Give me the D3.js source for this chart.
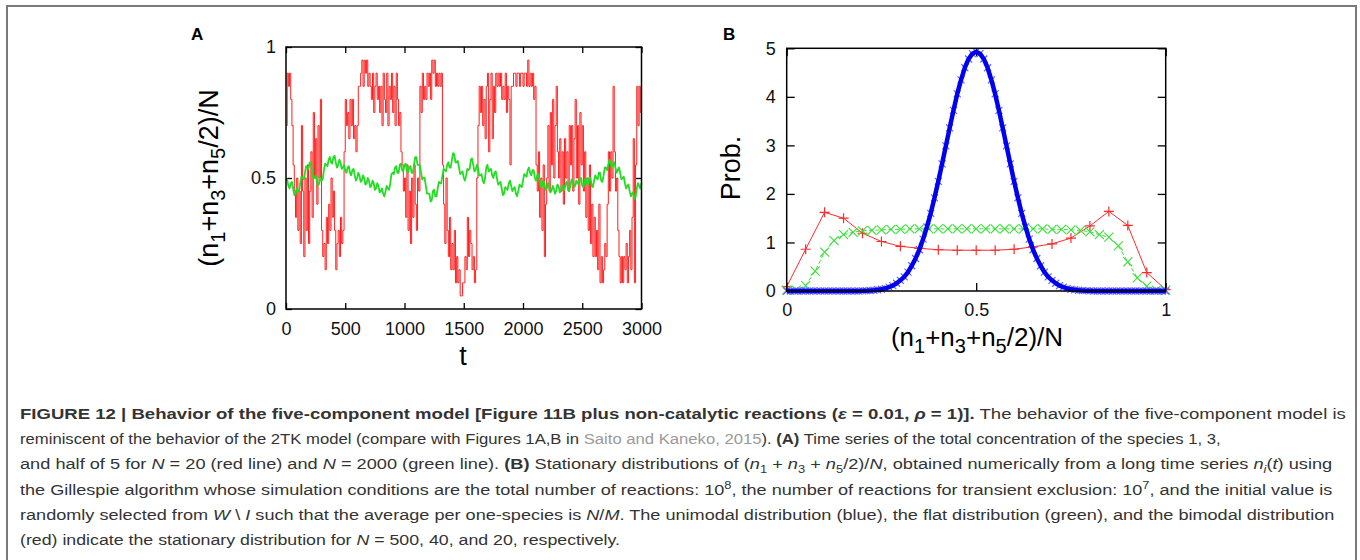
<!DOCTYPE html>
<html>
<head>
<meta charset="utf-8">
<script src="https://cdn.jsdelivr.net/npm/d3@7"></script>
<style>
  body { margin: 0; background: #fff; }
  svg text { font-family: "Liberation Sans", Arial, Helvetica, sans-serif; }
  svg text.caption { font-family: "Liberation Sans Narrow", "Liberation Sans", Arial, sans-serif; }
</style>
</head>
<body>
<script>
// ---- Panel A: time series (t step 10 for both series)
var tTicksA = [0, 500, 1000, 1500, 2000, 2500, 3000];
var yTicksA = [0, 0.5, 1];
var redStepA = 10;
var redA = [
  0.7, 0.9, 0.85, 0.9, 0.8, 0.7, 0.55, 0.45, 0.35, 0.5,
  0.3, 0.45, 0.25, 0.7, 0.45, 0.2, 0.5, 0.3, 0.55, 0.25,
  0.45, 0.6, 0.35, 0.75, 0.5, 0.65, 0.4, 0.7, 0.5, 0.8,
  0.3, 0.2, 0.25, 0.15, 0.35, 0.25, 0.4, 0.3, 0.5, 0.35,
  0.45, 0.3, 0.15, 0.25, 0.3, 0.2, 0.35, 0.25, 0.3, 0.6,
  0.8, 0.7, 0.75, 0.65, 0.8, 0.7, 0.8, 0.65, 0.7, 0.6,
  0.7, 0.85, 0.85, 0.9, 0.95, 0.85, 0.95, 0.9, 0.95, 0.85,
  0.9, 0.85, 0.8, 0.9, 0.75, 0.85, 0.9, 0.8, 0.85, 0.75,
  0.85, 0.7, 0.9, 0.8, 0.75, 0.9, 0.7, 0.85, 0.8, 0.9,
  0.75, 0.85, 0.7, 0.9, 0.8, 0.7, 0.75, 0.6, 0.55, 0.45,
  0.5, 0.35, 0.55, 0.3, 0.45, 0.25, 0.5, 0.35, 0.55, 0.4,
  0.3, 0.5, 0.45, 0.85, 0.75, 0.9, 0.8, 0.85, 0.8, 0.9,
  0.85, 0.9, 0.8, 0.95, 0.9, 0.95, 0.85, 0.9, 0.85, 0.9,
  0.85, 0.9, 0.55, 0.4, 0.25, 0.5, 0.3, 0.2, 0.35, 0.15,
  0.25, 0.15, 0.3, 0.1, 0.2, 0.1, 0.15, 0.05, 0.05, 0.1,
  0.1, 0.2, 0.15, 0.35, 0.2, 0.3, 0.25, 0.15, 0.2, 0.1,
  0.15, 0.5, 0.7, 0.85, 0.75, 0.85, 0.7, 0.8, 0.65, 0.85,
  0.9, 0.6, 0.8, 0.9, 0.65, 0.85, 0.75, 0.9, 0.85, 0.9,
  0.85, 0.9, 0.8, 0.85, 0.8, 0.9, 0.75, 0.85, 0.8, 0.55,
  0.85, 0.85, 0.9, 0.9, 0.85, 0.9, 0.9, 0.85, 0.9, 0.9,
  0.85, 0.9, 0.9, 0.85, 0.95, 0.85, 0.9, 0.85, 0.9, 0.8,
  0.85, 0.55, 0.45, 0.6, 0.35, 0.5, 0.3, 0.55, 0.2, 0.4,
  0.5, 0.7, 0.45, 0.75, 0.55, 0.8, 0.5, 0.7, 0.85, 0.6,
  0.5, 0.65, 0.45, 0.6, 0.4, 0.65, 0.5, 0.6, 0.45, 0.7,
  0.55, 0.7, 0.45, 0.65, 0.8, 0.5, 0.7, 0.4, 0.75, 0.55,
  0.7, 0.45, 0.6, 0.35, 0.5, 0.3, 0.55, 0.25, 0.4, 0.2,
  0.35, 0.2, 0.3, 0.15, 0.4, 0.1, 0.2, 0.1, 0.15, 0.25,
  0.2, 0.4, 0.6, 0.45, 0.6, 0.5, 0.85, 0.6, 0.45, 0.5,
  0.3, 0.2, 0.1, 0.2, 0.1, 0.2, 0.15, 0.25, 0.1, 0.2,
  0.3, 0.15, 0.35, 0.65, 0.1, 0.55, 0.85, 0.7, 0.85, 0.75,
  0.8
];
var greenStepA = 10;
var greenA = [
  0.49, 0.495, 0.47, 0.46, 0.48, 0.485, 0.46, 0.435, 0.44, 0.46, 0.45, 0.45, 0.48, 0.505, 0.5, 0.495, 0.52, 0.545, 0.54, 0.535,
  0.56, 0.56, 0.53, 0.5, 0.5, 0.51, 0.49, 0.47, 0.48, 0.5, 0.49, 0.495, 0.53, 0.555, 0.55, 0.545, 0.57, 0.58, 0.56, 0.555,
  0.58, 0.585, 0.56, 0.54, 0.55, 0.57, 0.56, 0.535, 0.54, 0.55, 0.53, 0.52, 0.54, 0.545, 0.52, 0.51, 0.53, 0.535, 0.51, 0.49,
  0.5, 0.52, 0.51, 0.485, 0.49, 0.51, 0.5, 0.475, 0.48, 0.5, 0.49, 0.465, 0.47, 0.49, 0.48, 0.455, 0.46, 0.48, 0.47, 0.445,
  0.45, 0.46, 0.44, 0.43, 0.45, 0.47, 0.46, 0.455, 0.48, 0.515, 0.52, 0.515, 0.54, 0.545, 0.52, 0.52, 0.55, 0.555, 0.53, 0.525,
  0.55, 0.555, 0.53, 0.52, 0.54, 0.545, 0.52, 0.52, 0.55, 0.58, 0.58, 0.55, 0.55, 0.55, 0.52, 0.495, 0.5, 0.5, 0.47, 0.44,
  0.44, 0.44, 0.41, 0.415, 0.45, 0.455, 0.43, 0.43, 0.46, 0.485, 0.48, 0.48, 0.51, 0.535, 0.53, 0.525, 0.55, 0.56, 0.54, 0.54,
  0.57, 0.595, 0.59, 0.56, 0.56, 0.565, 0.54, 0.515, 0.52, 0.525, 0.5, 0.49, 0.51, 0.535, 0.53, 0.535, 0.57, 0.575, 0.55, 0.525,
  0.53, 0.55, 0.54, 0.51, 0.51, 0.515, 0.49, 0.48, 0.5, 0.54, 0.55, 0.525, 0.53, 0.535, 0.51, 0.5, 0.52, 0.525, 0.5, 0.475,
  0.48, 0.485, 0.46, 0.435, 0.44, 0.465, 0.46, 0.455, 0.48, 0.49, 0.47, 0.45, 0.46, 0.465, 0.44, 0.43, 0.45, 0.475, 0.47, 0.465,
  0.49, 0.515, 0.51, 0.505, 0.53, 0.54, 0.52, 0.51, 0.53, 0.53, 0.5, 0.49, 0.51, 0.515, 0.49, 0.465, 0.47, 0.49, 0.48, 0.455,
  0.46, 0.48, 0.47, 0.445, 0.45, 0.47, 0.46, 0.44, 0.45, 0.475, 0.47, 0.445, 0.45, 0.47, 0.46, 0.455, 0.48, 0.485, 0.46, 0.45,
  0.47, 0.495, 0.49, 0.465, 0.47, 0.49, 0.48, 0.475, 0.5, 0.5, 0.47, 0.465, 0.49, 0.5, 0.48, 0.475, 0.5, 0.5, 0.47, 0.465,
  0.49, 0.51, 0.5, 0.495, 0.52, 0.52, 0.49, 0.485, 0.51, 0.54, 0.54, 0.53, 0.55, 0.57, 0.56, 0.54, 0.55, 0.56, 0.54, 0.52,
  0.53, 0.54, 0.52, 0.495, 0.5, 0.505, 0.48, 0.46, 0.47, 0.475, 0.45, 0.43, 0.44, 0.445, 0.42, 0.425, 0.46, 0.48, 0.47, 0.46,
  0.48
];

// ---- Panel B: stationary distributions
var xTicksB = [0, 0.5, 1];
var yTicksB = [0, 1, 2, 3, 4, 5];
// N = 20 (red), points at k/20
var redB = [0.09, 0.86, 1.62, 1.50, 1.19, 1.02, 0.92, 0.88, 0.85, 0.84, 0.84,
            0.84, 0.86, 0.91, 0.97, 1.09, 1.34, 1.64, 1.35, 0.38, 0.03];
// N = 40 (green), points at k/40
var greenB = [0.02, 0.02, 0.11, 0.41, 0.80, 1.04, 1.16, 1.21, 1.24, 1.25, 1.26,
              1.27, 1.27, 1.28, 1.28, 1.28, 1.28, 1.28, 1.28, 1.28, 1.28,
              1.28, 1.28, 1.28, 1.28, 1.28, 1.28, 1.28, 1.27, 1.27, 1.26,
              1.25, 1.22, 1.16, 1.11, 0.93, 0.60, 0.27, 0.10, 0.02, 0.02];
// N = 500 (blue), read every 0.01
var blueB = [
  0, 0, 0, 0, 0, 0, 0, 0, 0, 0,
  0, 0, 0, 0, 0, 0, 0, 0, 0, 0,
  0.004, 0.007, 0.011, 0.016, 0.025, 0.037, 0.055, 0.08, 0.11, 0.16,
  0.22, 0.29, 0.39, 0.52, 0.67, 0.85, 1.07, 1.32, 1.60, 1.92,
  2.26, 2.62, 2.99, 3.36, 3.72, 4.06, 4.35, 4.60, 4.78, 4.89,
  4.93,
  4.89, 4.78, 4.60, 4.35, 4.06, 3.72, 3.36, 2.99, 2.62, 2.26,
  1.92, 1.60, 1.32, 1.07, 0.85, 0.67, 0.52, 0.39, 0.29, 0.22,
  0.16, 0.11, 0.08, 0.055, 0.037, 0.025, 0.016, 0.011, 0.007, 0.004,
  0, 0, 0, 0, 0, 0, 0, 0, 0, 0,
  0, 0, 0, 0, 0, 0, 0, 0, 0, 0
];

// ---- caption: [text, style]  B bold, I italic, L link, _ sub, ^ sup
var captionLines = [
  [["FIGURE 12 | Behavior of the five-component model [Figure 11B plus non-catalytic reactions (", "B"], ["ε", "BI"], [" = 0.01, ", "B"], ["ρ", "BI"], [" = 1)].", "B"], [" The behavior of the five-component model is", ""]],
  [["reminiscent of the behavior of the 2TK model (compare with Figures 1A,B in ", ""], ["Saito and Kaneko, 2015", "L"], ["). ", ""], ["(A)", "B"], [" Time series of the total concentration of the species 1, 3,", ""]],
  [["and half of 5 for ", ""], ["N", "I"], [" = 20 (red line) and ", ""], ["N", "I"], [" = 2000 (green line). ", ""], ["(B)", "B"], [" Stationary distributions of (", ""], ["n", "I"], ["1", "_"], [" + ", ""], ["n", "I"], ["3", "_"], [" + ", ""], ["n", "I"], ["5", "_"], ["/2)/", ""], ["N", "I"], [", obtained numerically from a long time series ", ""], ["n", "I"], ["i", "_I"], ["(", ""], ["t", "I"], [") using", ""]],
  [["the Gillespie algorithm whose simulation conditions are the total number of reactions: 10", ""], ["8", "^"], [", the number of reactions for transient exclusion: 10", ""], ["7", "^"], [", and the initial value is", ""]],
  [["randomly selected from ", ""], ["W", "I"], [" \\ ", ""], ["I", "I"], [" such that the average per one-species is ", ""], ["N", "I"], ["/", ""], ["M", "I"], [". The unimodal distribution (blue), the flat distribution (green), and the bimodal distribution", ""]],
  [["(red) indicate the stationary distribution for ", ""], ["N", "I"], [" = 500, 40, and 20, respectively.", ""]]
];
// measured line widths from the left margin; the last line takes the mean squeeze
var captionWidths = [1327, 1202, 1313, 1314, 1315, null];

var width = 1360, height = 560;
var svg = d3.select("body").append("svg")
    .attr("width", width)
    .attr("height", height);

// outer frame of the figure
svg.append("rect")
    .attr("x", 7).attr("y", 6)
    .attr("width", 1349).attr("height", 600)
    .attr("fill", "none")
    .attr("stroke", "#7a7a7a")
    .attr("stroke-width", 2);

// axis label with subscripts
function fracLabel(sel) {
    var parts = [["(n", 0], ["1", 1], ["+n", 0], ["3", 1], ["+n", 0], ["5", 1], ["/2)/N", 0]];
    var shift = 0;
    parts.forEach(function(p) {
        var target = p[1] ? 7 : 0;
        sel.append("tspan")
            .attr("dy", target - shift)
            .style("font-size", p[1] ? "20px" : null)
            .text(p[0]);
        shift = target;
    });
}

function styleAxis(g) {
    g.select(".domain").remove();
    g.selectAll(".tick line").attr("stroke", "#000").attr("stroke-width", 1.3);
    g.selectAll(".tick text").style("font-size", "18px").attr("fill", "#111");
}

// ================= Panel A =================
var xA = d3.scaleLinear().domain([0, 3000]).range([286, 641.5]);
var yA = d3.scaleLinear().domain([0, 1]).range([309, 47]);

svg.append("text").attr("x", 191).attr("y", 40)
    .style("font-size", "17px").style("font-weight", "bold").text("A");

svg.append("g").attr("transform", "translate(0,309)")
    .call(d3.axisBottom(xA).tickValues(tTicksA).tickSize(-6).tickPadding(13).tickFormat(d3.format("d")))
    .call(styleAxis);
svg.append("g").attr("transform", "translate(0,47)")
    .call(d3.axisTop(xA).tickValues(tTicksA).tickSize(-6).tickFormat(""))
    .call(styleAxis);
svg.append("g").attr("transform", "translate(286,0)")
    .call(d3.axisLeft(yA).tickValues(yTicksA).tickSize(-6).tickPadding(10).tickFormat(function(d) { return d; }))
    .call(styleAxis);
svg.append("g").attr("transform", "translate(641.5,0)")
    .call(d3.axisRight(yA).tickValues(yTicksA).tickSize(-6).tickFormat(""))
    .call(styleAxis);

var lineRedA = d3.line()
    .x(function(d, i) { return xA(i * redStepA); })
    .y(function(d) { return yA(d); })
    .curve(d3.curveStepAfter);
var lineGreenA = d3.line()
    .x(function(d, i) { return xA(i * greenStepA); })
    .y(function(d) { return yA(d); });

svg.append("path").datum(redA)
    .attr("d", lineRedA)
    .attr("fill", "none").attr("stroke", "#ff1f1f").attr("stroke-width", 1);
svg.append("path").datum(greenA)
    .attr("d", lineGreenA)
    .attr("fill", "none").attr("stroke", "#22dd22").attr("stroke-width", 1.8).attr("stroke-linejoin", "round");

svg.append("rect")
    .attr("x", xA(0)).attr("y", yA(1))
    .attr("width", xA(3000) - xA(0)).attr("height", yA(0) - yA(1))
    .attr("fill", "none").attr("stroke", "#000").attr("stroke-width", 1.5);

svg.append("text")
    .attr("transform", "translate(218,178) rotate(-90)")
    .attr("text-anchor", "middle")
    .style("font-size", "27px")
    .call(fracLabel);
svg.append("text")
    .attr("x", 463).attr("y", 365)
    .attr("text-anchor", "middle")
    .style("font-size", "27px")
    .text("t");

// ================= Panel B =================
var xB = d3.scaleLinear().domain([0, 1]).range([786.7, 1165.7]);
var yB = d3.scaleLinear().domain([0, 5]).range([291, 48.3]);

svg.append("text").attr("x", 723).attr("y", 40)
    .style("font-size", "17px").style("font-weight", "bold").text("B");

svg.append("g").attr("transform", "translate(0,291)")
    .call(d3.axisBottom(xB).tickValues(xTicksB).tickSize(-8).tickPadding(12).tickFormat(function(d) { return d; }))
    .call(styleAxis);
svg.append("g").attr("transform", "translate(0,48.3)")
    .call(d3.axisTop(xB).tickValues(xTicksB).tickSize(-8).tickFormat(""))
    .call(styleAxis);
svg.append("g").attr("transform", "translate(786.7,0)")
    .call(d3.axisLeft(yB).tickValues(yTicksB).tickSize(-8).tickPadding(11).tickFormat(d3.format("d")))
    .call(styleAxis);
svg.append("g").attr("transform", "translate(1165.7,0)")
    .call(d3.axisRight(yB).tickValues(yTicksB).tickSize(-8).tickFormat(""))
    .call(styleAxis);

var plusPath = "M-5,0H5M0,-5V5";
var crossPath = "M-4.5,-4.5L4.5,4.5M-4.5,4.5L4.5,-4.5";
var smallCross = "M-3.5,-3.5L3.5,3.5M-3.5,3.5L3.5,-3.5";

// red N=20
svg.append("path").datum(redB)
    .attr("d", d3.line().x(function(d, i) { return xB(i / 20); }).y(function(d) { return yB(d); }))
    .attr("fill", "none").attr("stroke", "#ff2a2a").attr("stroke-width", 1);
svg.append("g").selectAll("path").data(redB).join("path")
    .attr("transform", function(d, i) { return "translate(" + xB(i / 20) + "," + yB(d) + ")"; })
    .attr("d", plusPath)
    .attr("stroke", "#ff2a2a").attr("stroke-width", 1.2).attr("fill", "none");

// green N=40
svg.append("path").datum(greenB)
    .attr("d", d3.line().x(function(d, i) { return xB(i / 40); }).y(function(d) { return yB(d); }))
    .attr("fill", "none").attr("stroke", "#3ade3a").attr("stroke-width", 1)
    .attr("stroke-dasharray", "4,2.5");
svg.append("g").selectAll("path").data(greenB).join("path")
    .attr("transform", function(d, i) { return "translate(" + xB(i / 40) + "," + yB(d) + ")"; })
    .attr("d", crossPath)
    .attr("stroke", "#3ade3a").attr("stroke-width", 1.1).attr("fill", "none");

// blue N=500
svg.append("g").selectAll("path").data(blueB).join("path")
    .attr("transform", function(d, i) { return "translate(" + xB(i / 100) + "," + yB(d) + ")"; })
    .attr("d", smallCross)
    .attr("stroke", "#6464ff").attr("stroke-width", 1.2).attr("fill", "none");
svg.append("path").datum(blueB)
    .attr("d", d3.line().x(function(d, i) { return xB(i / 100); }).y(function(d) { return yB(d); }))
    .attr("fill", "none").attr("stroke", "#0000f0").attr("stroke-width", 4.5)
    .attr("stroke-linejoin", "round");

svg.append("rect")
    .attr("x", xB(0)).attr("y", yB(5))
    .attr("width", xB(1) - xB(0)).attr("height", yB(0) - yB(5))
    .attr("fill", "none").attr("stroke", "#000").attr("stroke-width", 1.5);

svg.append("text")
    .attr("transform", "translate(740,168) rotate(-90)")
    .attr("text-anchor", "middle")
    .style("font-size", "27px")
    .text("Prob.");
svg.append("text")
    .attr("x", 977).attr("y", 346)
    .attr("text-anchor", "middle")
    .style("font-size", "26px")
    .call(fracLabel);

// ================= Caption =================
var capBase = 419, capGap = 25.2;
var capNodes = [], capScales = [];
captionLines.forEach(function(line, i) {
    var t = svg.append("text")
        .attr("class", "caption")
        .style("font-size", "15.5px")
        .attr("fill", "#333");
    var shift = 0;
    line.forEach(function(seg) {
        var s = seg[1];
        var target = s.indexOf("_") >= 0 ? 4 : (s.indexOf("^") >= 0 ? -6 : 0);
        var ts = t.append("tspan").attr("dy", target - shift).text(seg[0]);
        shift = target;
        if (s.indexOf("B") >= 0) ts.style("font-weight", "bold");
        if (s.indexOf("I") >= 0) ts.style("font-style", "italic");
        if (s.indexOf("L") >= 0) ts.attr("fill", "#9a9a9a");
        if (target !== 0) ts.style("font-size", "11px");
    });
    capNodes.push(t);
    if (captionWidths[i]) capScales.push(captionWidths[i] / t.node().getComputedTextLength());
});
// plain-text lines give the squeeze used for the short last line
var meanScale = d3.mean(capScales.slice(1));
capNodes.forEach(function(t, i) {
    var k = captionWidths[i] ? captionWidths[i] / t.node().getComputedTextLength() : meanScale;
    t.attr("transform", "translate(20," + (capBase + i * capGap) + ") scale(" + k + ",1)");
});
</script>
</body>
</html>
